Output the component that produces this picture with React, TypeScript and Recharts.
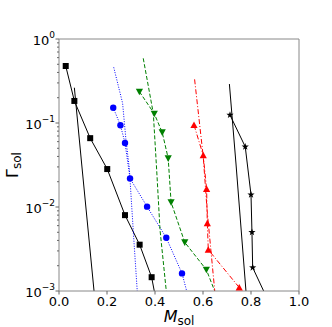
import React from "react";
import { LineChart, Line, XAxis, YAxis, ReferenceLine } from "recharts";

// ─── Data ─────────────────────────────────────────────────────────────────────

const xTicks = [0, 0.2, 0.4, 0.6, 0.8, 1.0];
const yMajorTicks = [0.001, 0.01, 0.1, 1];
const yMinorTicks = [
  0.002, 0.003, 0.004, 0.005, 0.006, 0.007, 0.008, 0.009,
  0.02, 0.03, 0.04, 0.05, 0.06, 0.07, 0.08, 0.09,
  0.2, 0.3, 0.4, 0.5, 0.6, 0.7, 0.8, 0.9,
];

// black squares, solid
const squares = [
  { x: 0.028, y: 0.477 },
  { x: 0.064, y: 0.183 },
  { x: 0.13, y: 0.066 },
  { x: 0.201, y: 0.0283 },
  { x: 0.275, y: 0.008 },
  { x: 0.336, y: 0.00356 },
  { x: 0.386, y: 0.00146 },
  { x: 0.417, y: 0.0005 },
];
const squaresSteep = [
  { x: 0.064, y: 0.263 },
  { x: 0.0945, y: 0.0325 },
  { x: 0.146, y: 0.001 },
];

// blue circles, dotted
const circles = [
  { x: 0.226, y: 0.152 },
  { x: 0.256, y: 0.094 },
  { x: 0.275, y: 0.0578 },
  { x: 0.296, y: 0.0219 },
  { x: 0.367, y: 0.0101 },
  { x: 0.447, y: 0.0043 },
  { x: 0.5125, y: 0.00162 },
  { x: 0.56, y: 0.0005 },
];
const circlesSteep = [
  { x: 0.228, y: 0.46 },
  { x: 0.265, y: 0.172 },
  { x: 0.279, y: 0.0628 },
  { x: 0.293, y: 0.0289 },
  { x: 0.31, y: 0.0049 },
  { x: 0.326, y: 0.001 },
];

// green down-triangles, dashed
const triDown = [
  { x: 0.335, y: 0.236 },
  { x: 0.397, y: 0.129 },
  { x: 0.43, y: 0.0775 },
  { x: 0.455, y: 0.038 },
  { x: 0.467, y: 0.0114 },
  { x: 0.524, y: 0.0038 },
  { x: 0.614, y: 0.00179 },
  { x: 0.69, y: 0.0005 },
];
const triDownSteep = [
  { x: 0.351, y: 0.589 },
  { x: 0.393, y: 0.13 },
  { x: 0.407, y: 0.0275 },
  { x: 0.421, y: 0.0053 },
  { x: 0.447, y: 0.001 },
];

// red up-triangles, dash-dot
const triUp = [
  { x: 0.5625, y: 0.0947 },
  { x: 0.601, y: 0.0412 },
  { x: 0.615, y: 0.0164 },
  { x: 0.618, y: 0.0064 },
  { x: 0.622, y: 0.0031 },
  { x: 0.751, y: 0.0011 },
];
const triUpSteep = [
  { x: 0.565, y: 0.331 },
  { x: 0.601, y: 0.0397 },
  { x: 0.617, y: 0.0092 },
  { x: 0.649, y: 0.001 },
];

// black stars, solid
const stars = [
  { x: 0.7125, y: 0.1245 },
  { x: 0.776, y: 0.0522 },
  { x: 0.8, y: 0.014 },
  { x: 0.804, y: 0.005 },
  { x: 0.807, y: 0.0019 },
  { x: 0.902, y: 0.0005 },
];
const starsSteep = [
  { x: 0.71, y: 0.291 },
  { x: 0.7375, y: 0.0325 },
  { x: 0.779, y: 0.001 },
];

const FONT = "DejaVu Sans, sans-serif";
const AXIS = "#888";

// ─── Markers ────────────────────────────────────────────────────────────────

function Square(p: any) {
  return <rect x={p.cx - 3} y={p.cy - 3} width={6} height={6} fill="#000" />;
}
function Circle(p: any) {
  return <circle cx={p.cx} cy={p.cy} r={3.2} fill="#0000ff" />;
}
function TriDown(p: any) {
  const { cx, cy } = p;
  return <polygon points={`${cx - 3.6},${cy - 3} ${cx + 3.6},${cy - 3} ${cx},${cy + 3.6}`} fill="#008000" />;
}
function TriUp(p: any) {
  const { cx, cy } = p;
  return <polygon points={`${cx - 3.6},${cy + 3} ${cx + 3.6},${cy + 3} ${cx},${cy - 3.6}`} fill="#ff0000" />;
}
function Star(p: any) {
  const { cx, cy } = p;
  const pts: string[] = [];
  for (let i = 0; i < 10; i++) {
    const r = i % 2 === 0 ? 3.8 : 1.5;
    const a = -Math.PI / 2 + (i * Math.PI) / 5;
    pts.push(`${cx + r * Math.cos(a)},${cy + r * Math.sin(a)}`);
  }
  return <polygon points={pts.join(" ")} fill="#000" />;
}

const dotOf = (Shape: any) => (p: any) => <Shape key={`d-${p.index}`} cx={p.cx} cy={p.cy} />;

// ─── Ticks & labels ─────────────────────────────────────────────────────────

function XTick({ x, y, payload }: any) {
  return (
    <g>
      <line x1={x} x2={x} y1={y} y2={y + 3.5} stroke="#666" />
      <text x={x} y={y + 15} textAnchor="middle" fontFamily={FONT} fontSize={13} fill="#000">
        {payload.value.toFixed(1)}
      </text>
    </g>
  );
}

function YTick({ x, y, payload }: any) {
  const v = payload.value;
  const major = yMajorTicks.includes(v);
  if (!major) {
    return <line x1={x - 2} x2={x} y1={y} y2={y} stroke="#666" />;
  }
  const exp = Math.round(Math.log10(v));
  return (
    <g>
      <line x1={x - 3.5} x2={x} y1={y} y2={y} stroke="#666" />
      <text x={x - 4} y={y + 6} textAnchor="end" fontFamily={FONT} fontSize={13} fill="#000">
        10
        <tspan dy={-7} fontSize={9}>
          {exp === 0 ? "0" : `\u2212${-exp}`}
        </tspan>
      </text>
    </g>
  );
}

function XLabel({ viewBox }: any) {
  const cx = viewBox.x + viewBox.width / 2;
  return (
    <text x={cx} y={viewBox.y + 31} textAnchor="middle" fontFamily={FONT} fill="#000">
      <tspan fontSize={16} fontStyle="italic">M</tspan>
      <tspan fontSize={12} dy={3}>sol</tspan>
    </text>
  );
}

function YLabel({ viewBox }: any) {
  const cy = viewBox.y + viewBox.height / 2;
  const x = 18;
  return (
    <text x={x} y={cy} transform={`rotate(-90, ${x}, ${cy})`} textAnchor="middle" fontFamily={FONT} fill="#000">
      <tspan fontSize={16}>Γ</tspan>
      <tspan fontSize={12} dy={3}>sol</tspan>
    </text>
  );
}

// ─── Main component ─────────────────────────────────────────────────────────

export default function App() {
  const common = { dataKey: "y", isAnimationActive: false, strokeWidth: 1 } as const;
  return (
    <div style={{ position: "absolute", left: 0, top: 0, background: "#fff" }}>
      <LineChart width={332} height={327} margin={{ top: 39, right: 33, left: 0, bottom: 0 }}>
        <XAxis
          type="number"
          dataKey="x"
          domain={[0, 1]}
          ticks={xTicks}
          allowDataOverflow
          height={36}
          tickSize={0}
          tickMargin={0}
          tickLine={false}
          tick={<XTick />}
          axisLine={{ stroke: AXIS }}
          label={<XLabel />}
        />
        <YAxis
          type="number"
          scale="log"
          domain={[0.001, 1]}
          ticks={[...yMinorTicks, ...yMajorTicks]}
          allowDataOverflow
          width={59}
          tickSize={0}
          tickMargin={0}
          tickLine={false}
          tick={<YTick />}
          axisLine={{ stroke: AXIS }}
          interval={0}
          label={<YLabel />}
        />
        <ReferenceLine y={1} stroke={AXIS} />
        <ReferenceLine x={1} stroke={AXIS} />

        <Line {...common} data={squaresSteep} stroke="#000" dot={false} />
        <Line {...common} data={squares} stroke="#000" dot={dotOf(Square)} />

        <Line {...common} data={circlesSteep} stroke="#0000ff" strokeDasharray="1 1.5" dot={false} />
        <Line {...common} data={circles} stroke="#0000ff" strokeDasharray="1 1.5" dot={dotOf(Circle)} />

        <Line {...common} data={triDownSteep} stroke="#008000" strokeDasharray="4 2" dot={false} />
        <Line {...common} data={triDown} stroke="#008000" strokeDasharray="4 2" dot={dotOf(TriDown)} />

        <Line {...common} data={triUpSteep} stroke="#ff0000" strokeDasharray="5 2 1 2" dot={false} />
        <Line {...common} data={triUp} stroke="#ff0000" strokeDasharray="5 2 1 2" dot={dotOf(TriUp)} />

        <Line {...common} data={starsSteep} stroke="#000" dot={false} />
        <Line {...common} data={stars} stroke="#000" dot={dotOf(Star)} />
      </LineChart>
    </div>
  );
}
